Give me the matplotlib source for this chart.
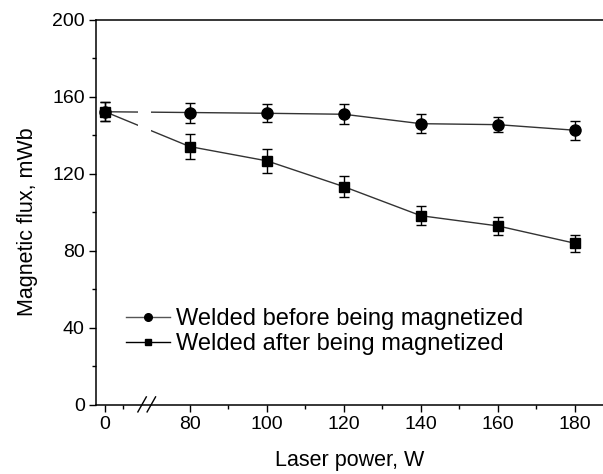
import matplotlib
matplotlib.use("Agg")
import matplotlib.pyplot as plt
from matplotlib.lines import Line2D
import numpy as np

plt.rcParams['font.family'] = ['Liberation Sans', 'DejaVu Sans']

# laser power (W); 0 sits left of the axis break
power = [0, 80, 100, 120, 140, 160, 180]
before = [152.3, 151.9, 151.5, 151.0, 146.1, 145.6, 142.7]
before_err = [5.0, 5.2, 4.7, 5.1, 5.0, 4.0, 4.9]
after = [152.3, 134.2, 126.8, 113.4, 98.3, 93.0, 84.0]
after_err = [5.0, 6.7, 6.3, 5.5, 5.0, 4.7, 4.3]
labels = ['Welded before being magnetized', 'Welded after being magnetized']

xticks = [0, 80, 100, 120, 140, 160, 180]
yticks = [0, 40, 80, 120, 160, 200]

# broken x axis: the low segment is shifted next to 80
offset = 58


def xmap(v):
    v = np.asarray(v, dtype=float)
    return np.where(v < 80, v + offset, v)


fig = plt.figure(figsize=(6.03, 4.74), dpi=100)
ax = fig.add_axes([0.159, 0.1456, 0.841, 0.8124])

xp = xmap(power)
line_kw = dict(color='#333333', lw=1.0, ecolor='black', elinewidth=1.0,
               capsize=3.6, capthick=1.0, markerfacecolor='black',
               markeredgecolor='black', zorder=2)
ax.errorbar(xp, before, yerr=before_err, marker='o', ms=8, **line_kw)
ax.errorbar(xp, after, yerr=after_err, marker='s', ms=7, **line_kw)

# gap in the lines where the axis is broken
ax.axvspan(66.5, 70.0, ymin=0.02, ymax=0.98, color='white', lw=0, zorder=2.2)

ax.set_xlim(55.6, 187.3)
ax.set_ylim(0, 200)
ax.set_xticks(xmap(xticks))
ax.set_xticklabels([str(t) for t in xticks])
ax.set_xticks(list(xmap([4.6])) + [90, 110, 130, 150, 170], minor=True)
ax.set_yticks(yticks)
ax.set_yticks([20, 60, 100, 140, 180], minor=True)

ax.tick_params(which='major', direction='out', length=5, width=1.0,
               labelsize=14, pad=3)
ax.tick_params(which='minor', direction='out', length=3, width=1.0)
for s in ['left', 'bottom', 'top']:
    ax.spines[s].set_linewidth(1.1)
ax.spines['right'].set_visible(False)

# break marks on the x axis
for x0 in [66.5, 68.9]:
    ax.plot([x0, x0 + 2.2], [-3.6, 4.2], color='black', lw=1.0,
            clip_on=False, zorder=5)

ax.set_xlabel('Laser power, W', fontsize=15.5, labelpad=12)
ax.set_ylabel('Magnetic flux, mWb', fontsize=15.5)
ax.yaxis.set_label_coords(-0.115, 0.475)

handles = [
    Line2D([], [], color='#555555', lw=1.0, marker='o', ms=5.5,
           markerfacecolor='black', markeredgecolor='black'),
    Line2D([], [], color='black', lw=1.0, marker='s', ms=5,
           markerfacecolor='black', markeredgecolor='black'),
]
ax.legend(handles, labels, loc='lower left', bbox_to_anchor=(0.04, 0.105),
          frameon=False, fontsize=17, handlelength=1.9, handletextpad=0.25,
          labelspacing=0.12, borderaxespad=0)

fig.savefig('out.png', dpi=100)
